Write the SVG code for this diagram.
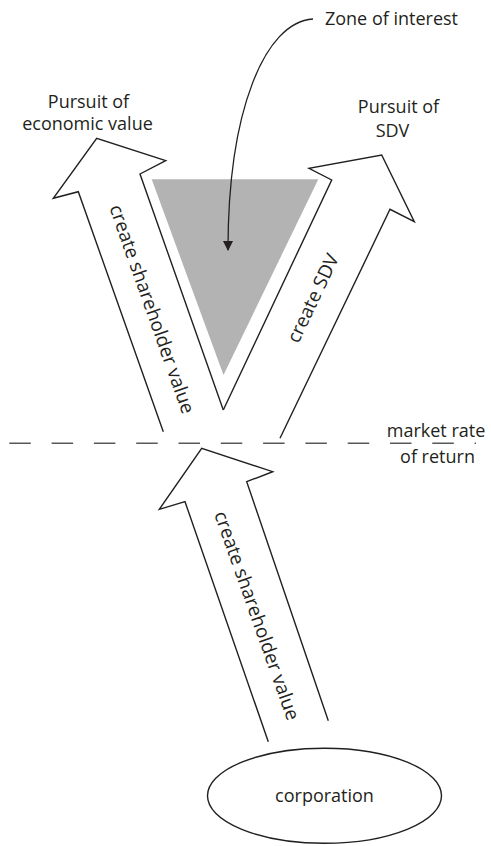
<svg xmlns="http://www.w3.org/2000/svg" width="491" height="846" viewBox="0 0 491 846">
<style>
text{font-family:"Open Sans","Liberation Sans",sans-serif;fill:#231f20;}
.lbl{font-size:18px;text-anchor:middle;}
.rot{font-size:19px;text-anchor:middle;dominant-baseline:central;}
.arr{fill:#fff;stroke:#231f20;stroke-width:1.4;stroke-linejoin:miter;}
</style>
<defs>
<marker id="ah" viewBox="0 0 10 10" refX="9" refY="5" markerWidth="10" markerHeight="12" markerUnits="userSpaceOnUse" orient="auto">
<path d="M0,0 L10,5 L0,10 z" fill="#231f20"/>
</marker>
</defs>
<rect width="491" height="846" fill="#fff"/>
<g id="zone">
<polygon points="151.7,179.3 318.3,179.3 223.5,375" fill="#b3b3b3"/>
</g>
<g id="left-arrow">
<polyline class="arr" points="163.3,431.7 78.3,191.7 53.3,198.3 96.7,138.3 165.7,160.7 140,174 223.3,410"/>
<text class="rot" transform="translate(152.5,309) rotate(70.5)">create shareholder value</text>
</g>
<g id="right-arrow">
<polyline class="arr" points="223.3,410 331.7,180 309,168.3 381.7,155 414.3,221.7 390,209.3 280,438.3"/>
<text class="rot" transform="translate(312.5,298) rotate(-64.5)">create SDV</text>
</g>
<g id="bottom-arrow">
<polyline class="arr" points="268.3,741.7 185,501.7 159.3,509.3 201.7,448.3 272.7,471.7 246.7,481.7 328.3,720.7"/>
<text class="rot" transform="translate(257.4,615.5) rotate(70.5)">create shareholder value</text>
</g>
<g id="corporation">
<ellipse cx="324.5" cy="795.8" rx="117" ry="47.5" fill="#fff" stroke="#231f20" stroke-width="1.4"/>
<text class="lbl" x="324.5" y="802">corporation</text>
</g>
<g id="labels">
<text class="lbl" x="88.5" y="108">Pursuit of</text>
<text class="lbl" x="87.5" y="130">economic value</text>
<text class="lbl" x="398.5" y="113">Pursuit of</text>
<text class="lbl" x="392.5" y="137">SDV</text>
<text class="lbl" x="391.5" y="25">Zone of interest</text>
<text class="lbl" x="436" y="437">market rate</text>
<text class="lbl" x="437.5" y="463">of return</text>
</g>
<g id="connectors">
<line x1="9.3" y1="443.3" x2="476" y2="443.3" stroke="#58595b" stroke-width="1.6" stroke-dasharray="21.5 20.8"/>
<path d="M313,19 C265,22 228,110 228,250" fill="none" stroke="#231f20" stroke-width="1.3" marker-end="url(#ah)"/>
</g>
</svg>
